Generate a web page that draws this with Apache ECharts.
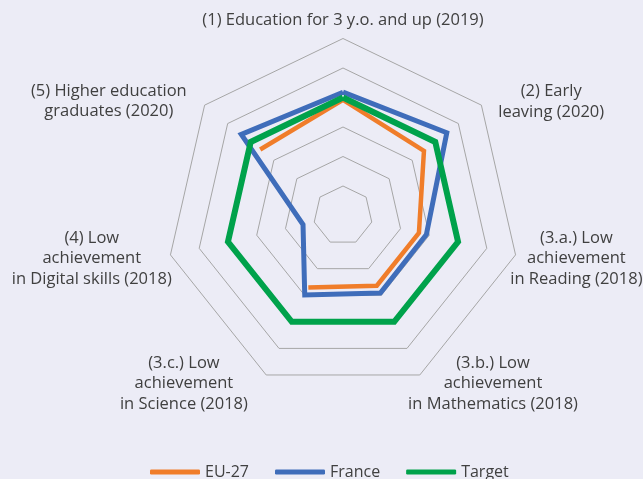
<!DOCTYPE html>
<html>
<head>
<meta charset="utf-8">
<script src="https://cdn.jsdelivr.net/npm/echarts@6/dist/echarts.min.js"></script>
<style>
html,body{margin:0;padding:0;background:#ECECF6;}
#c{width:643px;height:479px;}
</style>
</head>
<body>
<div id="c"></div>
<script>
// Indicators in clockwise order starting at the top
const indicatorNames = [
  "(1) Education for 3 y.o. and up (2019)",
  "(2) Early\nleaving (2020)",
  "(3.a.) Low\nachievement\nin Reading (2018)",
  "(3.b.) Low\nachievement\nin Mathematics (2018)",
  "(3.c.) Low\nachievement\nin Science (2018)",
  "(4) Low\nachievement\nin Digital skills (2018)",
  "(5) Higher education\ngraduates (2020)"
];
const seriesNames = ["EU-27", "France", "Target"];
const euValues = [3.92, 3.51, 2.64, 2.64, 2.71, null, 3.59];
const franceValues = [4.18, 4.50, 2.90, 2.92, 2.99, 1.39, 4.41];
const targetValues = [4, 4, 4, 4, 4, 4, 4];
const scaleMax = 6;

const colors = ["#F07D2A", "#3F6DBA", "#00A24B"];
const widths = [4.5, 5, 6];

// per-label nudges (padding: top, right, bottom, left) to place the axis names
const labelPad = [
  [0, 0, 69, 0],
  [0, 0, 40, 38],
  [19, 0, 0, 21],
  [66, 0, 0, 0],
  [66, 30, 0, 0],
  [19, 25, 0, 0],
  [0, 39, 41, 0]
];

const n = indicatorNames.length;
// ECharts radar places indicators counter-clockwise; reverse all but first to get clockwise
const radarOrder = [0].concat(Array.from({length: n - 1}, (_, i) => n - 1 - i));

function polarData(vals) {
  const d = vals.map((v, i) => (v == null ? ['-', i] : [v, i]));
  d.push([vals[0], n]); // close the loop
  return d;
}

const center = [343, 215.5];
const radius = 177;
const FONT = 'Open Sans';

const rich = {};
labelPad.forEach((p, i) => {
  rich['c' + i] = {align: 'center', fontSize: 16.5, lineHeight: 20.5, color: '#404040', fontFamily: FONT, padding: p};
});

const chart = echarts.init(document.getElementById('c'));
chart.setOption({
  backgroundColor: '#ECECF6',
  animation: false,
  textStyle: {fontFamily: FONT},
  radar: {
    center: center,
    radius: radius,
    startAngle: 90,
    splitNumber: 6,
    shape: 'polygon',
    indicator: radarOrder.map(i => ({name: indicatorNames[i], min: 0, max: scaleMax})),
    axisName: {
      color: '#404040',
      fontSize: 16.5,
      fontFamily: FONT,
      formatter: function (name) {
        const idx = indicatorNames.indexOf(name);
        return name.split('\n').map(l => '{c' + idx + '|' + l + '}').join('\n');
      },
      rich: rich
    },
    nameGap: -27,
    axisLine: {show: false},
    splitLine: {lineStyle: {color: '#A6A6A6', width: 1}},
    splitArea: {show: false}
  },
  polar: {center: center, radius: radius},
  angleAxis: {
    type: 'value', min: 0, max: n, startAngle: 90, clockwise: true,
    show: false, splitLine: {show: false}
  },
  radiusAxis: {type: 'value', min: 0, max: scaleMax, show: false, splitLine: {show: false}},
  legend: {
    left: 145,
    top: 459,
    itemWidth: 50,
    itemHeight: 5,
    itemGap: 26,
    icon: 'roundRect',
    textStyle: {color: '#404040', fontSize: 16, fontFamily: FONT},
    data: seriesNames
  },
  series: [euValues, franceValues, targetValues].map((vals, k) => ({
    name: seriesNames[k],
    type: 'line',
    coordinateSystem: 'polar',
    data: polarData(vals),
    showSymbol: false,
    symbol: 'none',
    connectNulls: false,
    color: colors[k],
    lineStyle: {color: colors[k], width: widths[k], join: 'miter', cap: 'butt'},
    z: 2 + k
  }))
});
</script>
</body>
</html>
